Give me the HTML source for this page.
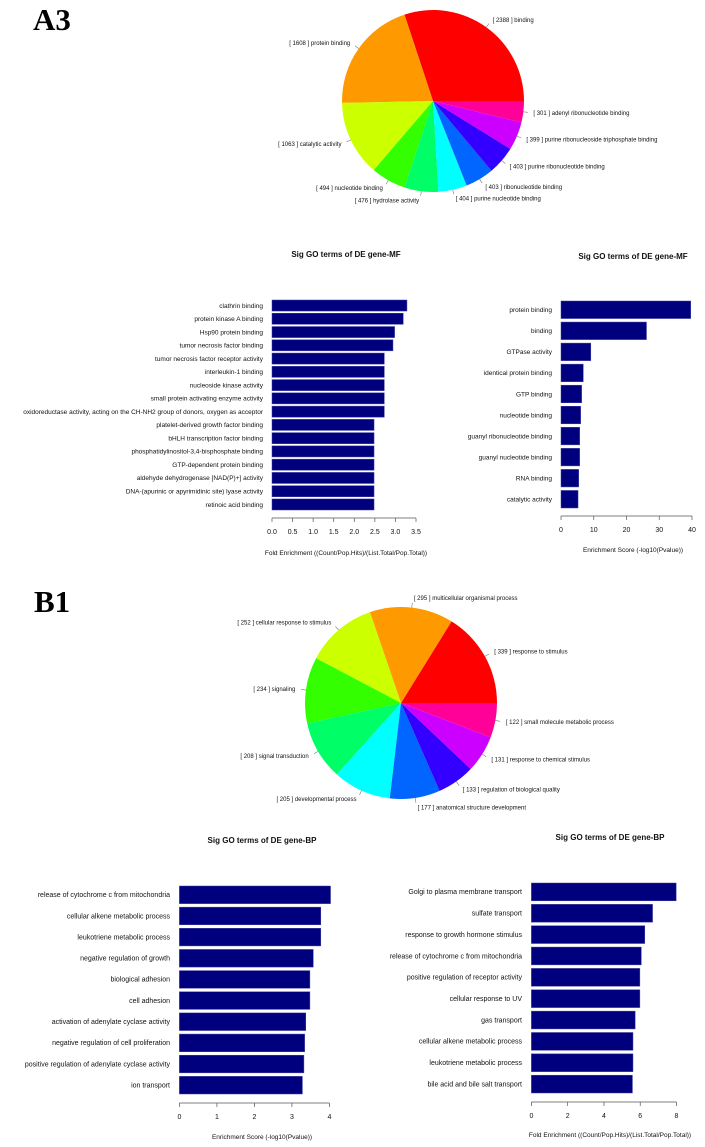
<!DOCTYPE html>
<html><head><meta charset="utf-8">
<style>
html,body{margin:0;padding:0;background:#fff;}
svg{display:block;font-family:"Liberation Sans",Arial,sans-serif;}
.lbl{font-family:"Times New Roman","Liberation Serif",serif;font-weight:bold;font-size:31px;}
</style></head>
<body>
<svg id="fig" width="705" height="1147" viewBox="0 0 705 1147" xmlns="http://www.w3.org/2000/svg">
<text class="lbl" x="33" y="30">A3</text>
<text class="lbl" x="34" y="612">B1</text>
</svg>
<script>
// ---- Pie data ----
const pieA3Labels = ["binding","protein binding","catalytic activity","nucleotide binding","hydrolase activity","purine nucleotide binding","ribonucleotide binding","purine ribonucleotide binding","purine ribonucleoside triphosphate binding","adenyl ribonucleotide binding"];
const pieA3Values = [2388,1608,1063,494,476,404,403,403,399,301];
const pieB1Labels = ["response to stimulus","multicellular organismal process","cellular response to stimulus","signaling","signal transduction","developmental process","anatomical structure development","regulation of biological quality","response to chemical stimulus","small molecule metabolic process"];
const pieB1Values = [339,295,252,234,208,205,177,133,131,122];
const pieColors = ["#FF0000","#FF9900","#CCFF00","#33FF00","#00FF66","#00FFFF","#0066FF","#3300FF","#CC00FF","#FF0099"];

// ---- Bar data ----
const mfFoldCats = ["clathrin binding","protein kinase A binding","Hsp90 protein binding","tumor necrosis factor binding","tumor necrosis factor receptor activity","interleukin-1 binding","nucleoside kinase activity","small protein activating enzyme activity","oxidoreductase activity, acting on the CH-NH2 group of donors, oxygen as acceptor","platelet-derived growth factor binding","bHLH transcription factor binding","phosphatidylinositol-3,4-bisphosphate binding","GTP-dependent protein binding","aldehyde dehydrogenase [NAD(P)+] activity","DNA-(apurinic or apyrimidinic site) lyase activity","retinoic acid binding"];
const mfFoldVals = [3.28,3.19,2.98,2.94,2.73,2.73,2.73,2.73,2.73,2.48,2.48,2.48,2.48,2.48,2.48,2.48];
const mfFoldTicks = ["0.0","0.5","1.0","1.5","2.0","2.5","3.0","3.5"];

const mfScoreCats = ["protein binding","binding","GTPase activity","identical protein binding","GTP binding","nucleotide binding","guanyl ribonucleotide binding","guanyl nucleotide binding","RNA binding","catalytic activity"];
const mfScoreVals = [39.6,26.1,9.1,6.8,6.3,6.0,5.7,5.7,5.4,5.2];
const mfScoreTicks = ["0","10","20","30","40"];

const bpScoreCats = ["release of cytochrome c from mitochondria","cellular alkene metabolic process","leukotriene metabolic process","negative regulation of growth","biological adhesion","cell adhesion","activation of adenylate cyclase activity","negative regulation of cell proliferation","positive regulation of adenylate cyclase activity","ion transport"];
const bpScoreVals = [4.03,3.77,3.77,3.57,3.48,3.48,3.37,3.34,3.32,3.28];
const bpScoreTicks = ["0","1","2","3","4"];

const bpFoldCats = ["Golgi to plasma membrane transport","sulfate transport","response to growth hormone stimulus","release of cytochrome c from mitochondria","positive regulation of receptor activity","cellular response to UV","gas transport","cellular alkene metabolic process","leukotriene metabolic process","bile acid and bile salt transport"];
const bpFoldVals = [7.98,6.68,6.25,6.06,5.98,5.98,5.72,5.6,5.6,5.57];
const bpFoldTicks = ["0","2","4","6","8"];

const NS = "http://www.w3.org/2000/svg";
const svg = document.getElementById("fig");
function mk(tag, attrs, parent){
  const e = document.createElementNS(NS, tag);
  for (const k in attrs) e.setAttribute(k, attrs[k]);
  (parent||svg).appendChild(e);
  return e;
}

function drawPie(name, labels, values, cx, cy, r){
  const g = mk("g", {});
  
  
  const total = values.reduce((a,b)=>a+b,0);
  let a0 = 0;
  values.forEach((v,i)=>{
    const a1 = a0 + v/total*2*Math.PI;
    const x0 = cx + r*Math.cos(a0), y0 = cy - r*Math.sin(a0);
    const x1 = cx + r*Math.cos(a1), y1 = cy - r*Math.sin(a1);
    const large = (a1-a0) > Math.PI ? 1 : 0;
    const p = mk("path", {d:`M${cx},${cy} L${x0},${y0} A${r},${r} 0 ${large} 0 ${x1},${y1} Z`, fill:pieColors[i]}, g);
    
    
    const am = (a0+a1)/2, c = Math.cos(am), s = Math.sin(am);
    mk("line", {x1:cx+r*c, y1:cy-r*s, x2:cx+1.05*r*c, y2:cy-1.05*r*s, stroke:"#777", "stroke-width":0.6}, g);
    const t = mk("text", {x:cx+1.1*r*c + (c>=0?1:-1), y:cy-1.1*r*s+2, "font-size":"6px", fill:"#111", "text-anchor": c>=0?"start":"end"}, g);
    t.textContent = `[ ${values[i]} ] ${labels[i]}`;
    
    
    a0 = a1;
  });
}

function drawBars(name, cats, vals, ticks, cfg){
  const g = mk("g", {});
  
  
  const tmax = parseFloat(ticks[ticks.length-1]);
  const xs = v => cfg.x0 + (v/tmax)*(cfg.x1-cfg.x0);
  const n = cats.length;
  const pitch = (cfg.top - cfg.bottom) ; // placeholder
  const step = (cfg.bottom - cfg.top)/(n - 0.2/1.2*1); // approx
  const unit = (cfg.bottom - cfg.top)/(n*1.2 - 0.2);
  const bh = unit, gap = unit*0.2;
  const title = mk("text", {x:cfg.tx, y:cfg.ty, "font-size":"8px", "font-weight":"bold", "text-anchor":"middle", fill:"#111"}, g);
  title.textContent = cfg.title;
  
  
  cats.forEach((c,i)=>{
    const y = cfg.top + i*(bh+gap);
    const b = mk("rect", {x:xs(0), y:y, width:xs(vals[i])-xs(0), height:bh, fill:"#00007F", stroke:"#4040a0", "stroke-width":0.5}, g);
    
    
    const t = mk("text", {x:cfg.lx, y:y+bh/2+2.3, "font-size":cfg.fs, "text-anchor":"end", fill:"#111"}, g);
    t.textContent = c;
    
    
  });
  const ay = cfg.axisY;
  mk("line", {x1:xs(0), y1:ay, x2:xs(tmax), y2:ay, stroke:"#555", "stroke-width":0.7}, g);
  ticks.forEach(tk=>{
    const v = parseFloat(tk);
    mk("line", {x1:xs(v), y1:ay, x2:xs(v), y2:ay+4, stroke:"#555", "stroke-width":0.7}, g);
    const t = mk("text", {x:xs(v), y:ay+16, "font-size":"7px", "text-anchor":"middle", fill:"#111"}, g);
    t.textContent = tk;
    
    
  });
  const xl = mk("text", {x:cfg.xlx, y:cfg.xly, "font-size":"6.5px", "text-anchor":"middle", fill:"#111"}, g);
  xl.textContent = cfg.xlabel;
  
  
}

drawPie("pie-a3-molecular-function", pieA3Labels, pieA3Values, 433, 101, 91);
drawPie("pie-b1-biological-process", pieB1Labels, pieB1Values, 401, 703, 96);

drawBars("bar-chart-mf-fold-enrichment", mfFoldCats, mfFoldVals, mfFoldTicks,
  {x0:272, x1:416, top:300, bottom:510, lx:263, fs:"6.5px", axisY:518, title:"Sig GO terms of DE gene-MF", tx:346, ty:257, xlabel:"Fold Enrichment ((Count/Pop.Hits)/(List.Total/Pop.Total))", xlx:346, xly:555});
drawBars("bar-chart-mf-enrichment-score", mfScoreCats, mfScoreVals, mfScoreTicks,
  {x0:561, x1:692, top:301, bottom:508, lx:552, fs:"6.5px", axisY:516, title:"Sig GO terms of DE gene-MF", tx:633, ty:259, xlabel:"Enrichment Score (-log10(Pvalue))", xlx:633, xly:552});
drawBars("bar-chart-bp-enrichment-score", bpScoreCats, bpScoreVals, bpScoreTicks,
  {x0:179.4, x1:329.4, top:886, bottom:1094, lx:170, fs:"7px", axisY:1103, title:"Sig GO terms of DE gene-BP", tx:262, ty:843, xlabel:"Enrichment Score (-log10(Pvalue))", xlx:262, xly:1139});
drawBars("bar-chart-bp-fold-enrichment", bpFoldCats, bpFoldVals, bpFoldTicks,
  {x0:531.4, x1:676.5, top:883, bottom:1093, lx:522, fs:"7px", axisY:1102, title:"Sig GO terms of DE gene-BP", tx:610, ty:840, xlabel:"Fold Enrichment ((Count/Pop.Hits)/(List.Total/Pop.Total))", xlx:610, xly:1137});
</script>
</body></html>
